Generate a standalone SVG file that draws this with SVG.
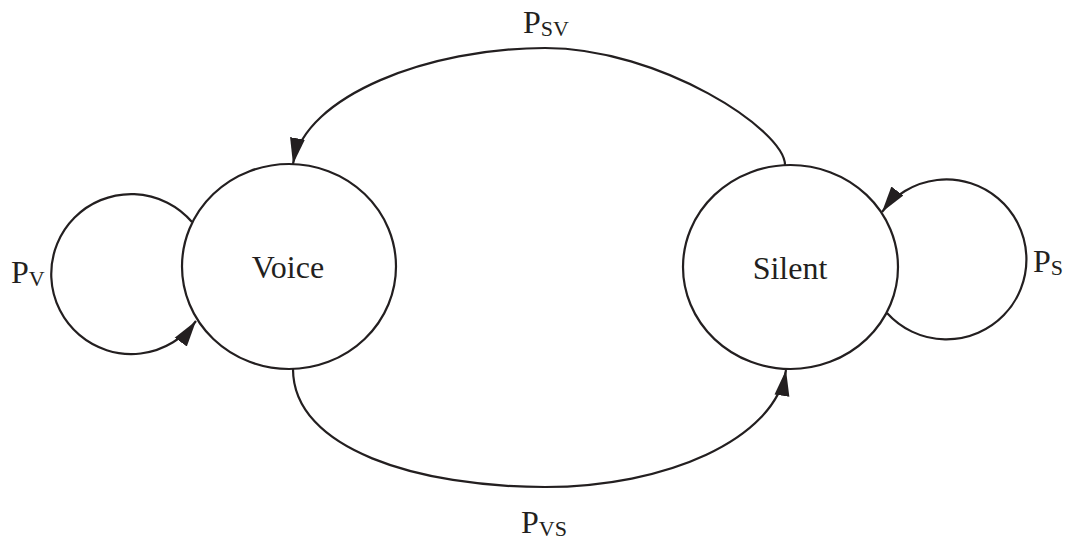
<svg xmlns="http://www.w3.org/2000/svg" width="1069" height="543" viewBox="0 0 1069 543">
<style>
.state{fill:#fff;stroke:#231f20;stroke-width:2.2}
.edge{fill:none;stroke:#231f20;stroke-width:2.2}
.lbl{font-family:"Liberation Serif","Times New Roman",serif;font-size:32px;fill:#231f20}
.sub{font-size:22px}
</style>
<defs>
<marker id="arr" markerUnits="userSpaceOnUse" markerWidth="28" markerHeight="18" refX="26" refY="8" orient="auto" viewBox="0 0 28 18">
<path d="M0,0.5 L26,8 L0,15.5 z" fill="#231f20"/>
</marker>
</defs>
<g id="connectors">
<path id="loopV" class="edge" d="M192,222 A80,80 0 1 0 196,321" marker-end="url(#arr)"/>
<path id="loopS" class="edge" d="M887,313 A80,80 0 1 0 882,212" marker-end="url(#arr)"/>
<path id="edgeSV" class="edge" d="M785,165 C785,130 660,48 545,48 C430,48 305,95 293,164" marker-end="url(#arr)"/>
<path id="edgeVS" class="edge" d="M293,369 C293,450 420,487 545,487 C665,487 775,440 786,370" marker-end="url(#arr)"/>
</g>
<g id="voice">
<ellipse class="state" cx="289" cy="266.5" rx="107" ry="102.5"/>
<text class="lbl" x="288" y="278" text-anchor="middle">Voice</text>
</g>
<g id="silent">
<ellipse class="state" cx="790.5" cy="267" rx="107.5" ry="102"/>
<text class="lbl" x="790" y="279" text-anchor="middle">Silent</text>
</g>
<g id="labels">
<text class="lbl" x="11" y="283">P<tspan class="sub" dy="3">V</tspan></text>
<text class="lbl" x="1033" y="272">P<tspan class="sub" dy="3">S</tspan></text>
<text class="lbl" x="523" y="33">P<tspan class="sub" dy="3">SV</tspan></text>
<text class="lbl" x="521" y="533">P<tspan class="sub" dy="3">VS</tspan></text>
</g>
</svg>
